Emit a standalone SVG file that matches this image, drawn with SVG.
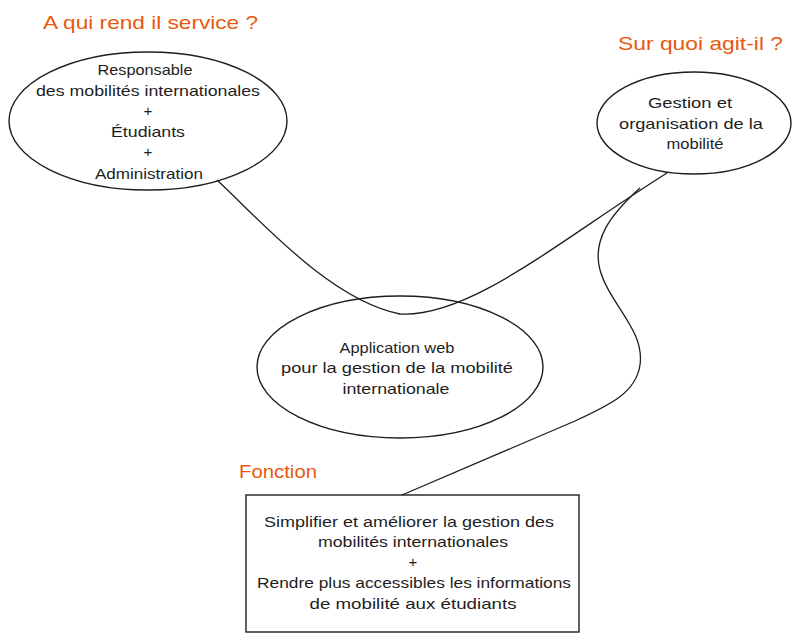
<svg xmlns="http://www.w3.org/2000/svg" width="800" height="641" viewBox="0 0 800 641">
<style>
.bg{fill:#ffffff}
.shape{fill:none;stroke:#1e1e1e;stroke-width:1.4}
.conn{fill:none;stroke:#1e1e1e;stroke-width:1.3}
.t{font-family:"Liberation Sans","DejaVu Sans",sans-serif;font-size:15px;fill:#1e1e1e;text-anchor:middle}
.h{font-family:"Liberation Sans","DejaVu Sans",sans-serif;font-size:19px;fill:#e8590c}
</style>
<rect class="bg" x="0" y="0" width="800" height="641"/>
<text class="h" x="43" y="29" textLength="215" lengthAdjust="spacingAndGlyphs">A qui rend il service ?</text>
<text class="h" x="618" y="50" textLength="165" lengthAdjust="spacingAndGlyphs">Sur quoi agit-il ?</text>
<text class="h" x="239" y="478" textLength="78" lengthAdjust="spacingAndGlyphs">Fonction</text>
<g id="connectors">
<path class="conn" d="M217,180 C260,220 330,300 400,314 C470,318 560,240 667,173"/>
<path class="conn" d="M640,188 C610,215 592,240 600,270 C610,305 645,330 640,365 C636,392 612,404 575,421 L402,495"/>
</g>
<g id="node-users">
<ellipse class="shape" cx="148" cy="121" rx="139" ry="69"/>
<text class="t" x="145" y="75" textLength="95" lengthAdjust="spacingAndGlyphs">Responsable</text>
<text class="t" x="148" y="96" textLength="224" lengthAdjust="spacingAndGlyphs">des mobilités internationales</text>
<text class="t" x="148" y="116">+</text>
<text class="t" x="148" y="137" textLength="74" lengthAdjust="spacingAndGlyphs">Étudiants</text>
<text class="t" x="148" y="157">+</text>
<text class="t" x="149" y="179" textLength="108" lengthAdjust="spacingAndGlyphs">Administration</text>
</g>
<g id="node-object">
<ellipse class="shape" cx="694" cy="123" rx="97" ry="51"/>
<text class="t" x="690" y="108" textLength="84" lengthAdjust="spacingAndGlyphs">Gestion et</text>
<text class="t" x="691" y="129" textLength="144" lengthAdjust="spacingAndGlyphs">organisation de la</text>
<text class="t" x="695" y="149" textLength="57" lengthAdjust="spacingAndGlyphs">mobilité</text>
</g>
<g id="node-app">
<ellipse class="shape" cx="400" cy="367" rx="143" ry="71"/>
<text class="t" x="397" y="353" textLength="115" lengthAdjust="spacingAndGlyphs">Application web</text>
<text class="t" x="397" y="373" textLength="232" lengthAdjust="spacingAndGlyphs">pour la gestion de la mobilité</text>
<text class="t" x="396" y="394" textLength="107" lengthAdjust="spacingAndGlyphs">internationale</text>
</g>
<g id="node-function">
<rect class="shape" x="246" y="495" width="333" height="137"/>
<text class="t" x="409" y="527" textLength="290" lengthAdjust="spacingAndGlyphs">Simplifier et améliorer la gestion des</text>
<text class="t" x="413" y="547" textLength="190" lengthAdjust="spacingAndGlyphs">mobilités internationales</text>
<text class="t" x="413" y="567">+</text>
<text class="t" x="414" y="588" textLength="314" lengthAdjust="spacingAndGlyphs">Rendre plus accessibles les informations</text>
<text class="t" x="413" y="609" textLength="207" lengthAdjust="spacingAndGlyphs">de mobilité aux étudiants</text>
</g>
</svg>
